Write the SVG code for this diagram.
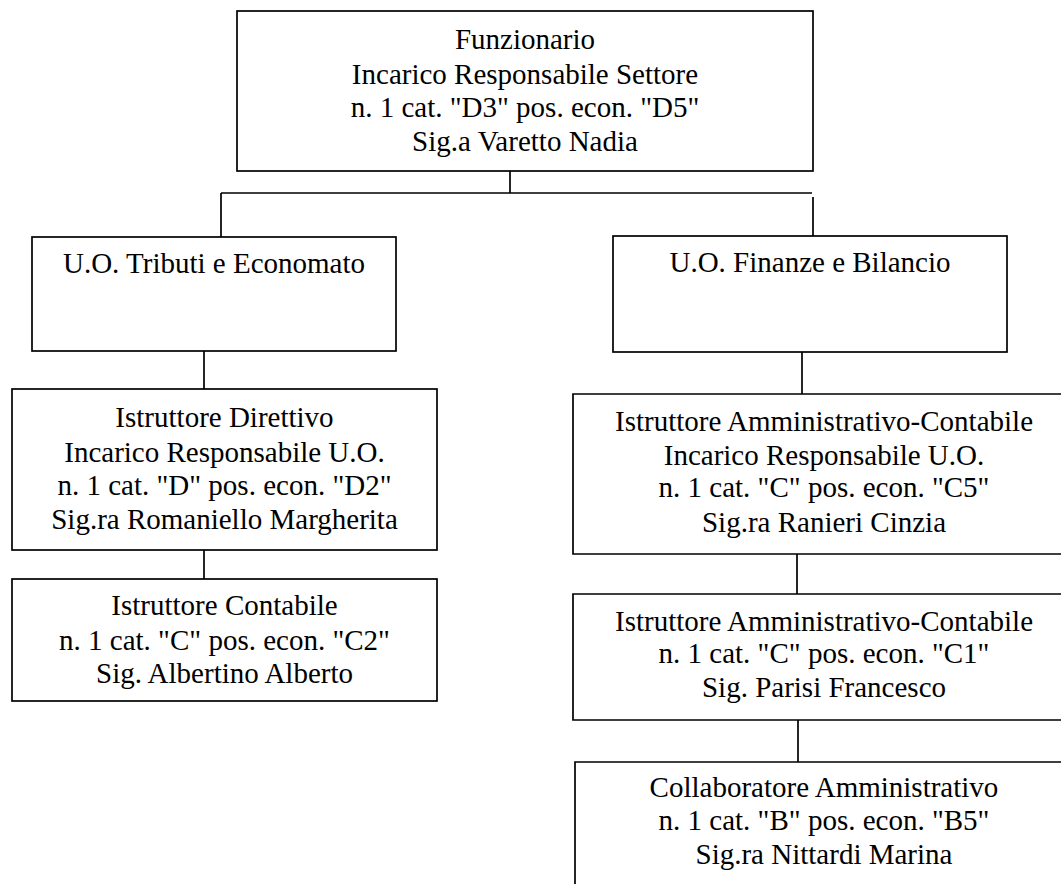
<svg xmlns="http://www.w3.org/2000/svg" width="1061" height="884" viewBox="0 0 1061 884">
<style>
.box{fill:#fff;stroke:#000;stroke-width:1.7}
.ln{stroke:#000;stroke-width:1.7;fill:none}
text{font-family:"Liberation Serif","Times New Roman",serif;font-size:29px;fill:#000;text-anchor:middle}
</style>
<rect width="1061" height="884" fill="#fff"/>
<g id="connectors">
<path class="ln" d="M510 171V193M221 193H812M221 193V237M813 197V236"/>
<path class="ln" d="M204 351V389M204 550V579"/>
<path class="ln" d="M802 352V394M797 554V594M798 720V762"/>
</g>
<g id="funzionario">
<rect class="box" x="237" y="11" width="576" height="160"/>
<text x="525" y="49">Funzionario</text>
<text x="525" y="84">Incarico Responsabile Settore</text>
<text x="525" y="117">n. 1 cat. "D3" pos. econ. "D5"</text>
<text x="525" y="151">Sig.a Varetto Nadia</text>
</g>
<g id="uo-tributi">
<rect class="box" x="32" y="237" width="364" height="114"/>
<text x="214" y="273">U.O. Tributi e Economato</text>
</g>
<g id="uo-finanze">
<rect class="box" x="613" y="236" width="394" height="116"/>
<text x="810" y="272">U.O. Finanze e Bilancio</text>
</g>
<g id="istr-direttivo">
<rect class="box" x="12" y="389" width="425" height="161"/>
<text x="224.5" y="427">Istruttore Direttivo</text>
<text x="224.5" y="462">Incarico Responsabile U.O.</text>
<text x="224.5" y="495">n. 1 cat. "D" pos. econ. "D2"</text>
<text x="224.5" y="529">Sig.ra Romaniello Margherita</text>
</g>
<g id="istr-contabile">
<rect class="box" x="12" y="579" width="425" height="122"/>
<text x="224.5" y="615">Istruttore Contabile</text>
<text x="224.5" y="650">n. 1 cat. "C" pos. econ. "C2"</text>
<text x="224.5" y="683">Sig. Albertino Alberto</text>
</g>
<g id="istr-amm-1">
<path class="box" d="M1070 394H573V554H1070"/>
<text x="824" y="431">Istruttore Amministrativo-Contabile</text>
<text x="824" y="465">Incarico Responsabile U.O.</text>
<text x="824" y="497">n. 1 cat. "C" pos. econ. "C5"</text>
<text x="824" y="532">Sig.ra Ranieri Cinzia</text>
</g>
<g id="istr-amm-2">
<path class="box" d="M1070 594H573V720H1070"/>
<text x="824" y="631">Istruttore Amministrativo-Contabile</text>
<text x="824" y="663">n. 1 cat. "C" pos. econ. "C1"</text>
<text x="824" y="697">Sig. Parisi Francesco</text>
</g>
<g id="collaboratore">
<path class="box" d="M1070 762H575V890"/>
<text x="824" y="797">Collaboratore Amministrativo</text>
<text x="824" y="830">n. 1 cat. "B" pos. econ. "B5"</text>
<text x="824" y="864">Sig.ra Nittardi Marina</text>
</g>
</svg>
